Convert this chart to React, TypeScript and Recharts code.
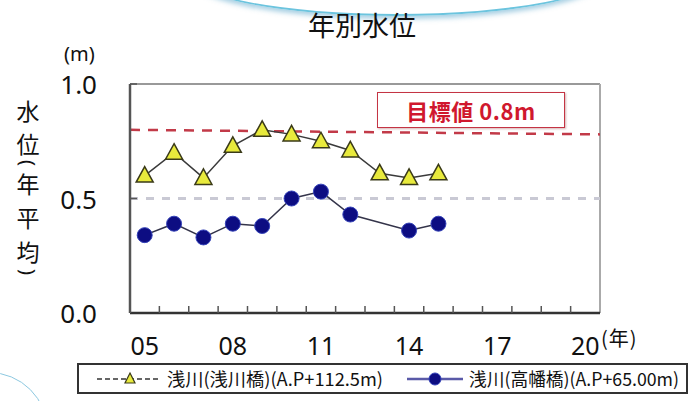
import React from 'react';
import { LineChart, Line, XAxis, YAxis, ReferenceLine } from 'recharts';

// 年 (2005〜2015)
const years = [5, 6, 7, 8, 9, 10, 11, 12, 13, 14, 15];
// 浅川(浅川橋)(A.P+112.5m)
const asakawaBashi = [0.6, 0.7, 0.59, 0.73, 0.8, 0.78, 0.75, 0.71, 0.61, 0.59, 0.61];
// 浅川(高幡橋)(A.P+65.00m) — 13年は欠測
const takahataBashi = [0.34, 0.39, 0.33, 0.39, 0.38, 0.5, 0.53, 0.43, null, 0.36, 0.39];

const xLabelTicks = [5, 8, 11, 14, 17, 20];
const xLabels = ['05', '08', '11', '14', '17', '20'];
const yTicks = [0, 0.5, 1];
const target = 0.8;

const data = years.map((y, i) => ({ year: y, asakawa: asakawaBashi[i], takahata: takahataBashi[i] }));

// tick marks sit on the category boundaries, labels on the category centres
const boundaryTicks = Array.from({ length: 15 }, (_, i) => 5.5 + i);
const allXTicks = [...xLabelTicks, ...boundaryTicks].sort((a, b) => a - b);

const numFont = '"Noto Sans", "Liberation Sans", sans-serif';
const jpFont = '"Noto Sans CJK JP", "Noto Sans", sans-serif';

// vertical axis title 水位(年平均), one glyph per row
const yTitleChars = [
  { ch: '水', y: 110 },
  { ch: '位', y: 143 },
  { ch: '年', y: 183 },
  { ch: '平', y: 217 },
  { ch: '均', y: 251 },
];
const yTitleParens = [
  { ch: '(', y: 163 },
  { ch: ')', y: 272 },
];

const XTick = ({ x, y, payload }: any) => {
  const idx = xLabelTicks.indexOf(payload.value);
  if (idx >= 0) {
    return (
      <text x={x} y={y + 42} textAnchor="middle" fontSize={25} fontFamily={numFont} fill="#111">
        {xLabels[idx]}
      </text>
    );
  }
  return <line x1={x} x2={x} y1={y} y2={y - 7} stroke="#555" strokeWidth={1.5} />;
};

const YTick = ({ x, y, payload }: any) => (
  <g>
    {payload.value > 0 && <line x1={x} x2={x + 7} y1={y} y2={y} stroke="#555" strokeWidth={1.5} />}
    <text x={x - 33} y={y + 10} textAnchor="end" fontSize={26} fontFamily={numFont} fill="#111">
      {payload.value.toFixed(1)}
    </text>
  </g>
);

const triangleDot = (props: any) => {
  const { cx, cy, index, value } = props;
  if (value == null || cx == null || cy == null) return <g key={`t-${index}`} />;
  return (
    <polygon
      key={`t-${index}`}
      points={`${cx},${cy - 9} ${cx + 8.5},${cy + 6.5} ${cx - 8.5},${cy + 6.5}`}
      fill="#e8ea3c"
      stroke="#3a3a18"
      strokeWidth={1.5}
    />
  );
};

const circleDot = (props: any) => {
  const { cx, cy, index, value } = props;
  if (value == null || cx == null || cy == null) return <g key={`c-${index}`} />;
  return <circle key={`c-${index}`} cx={cx} cy={cy} r={7.5} fill="#0d0d82" stroke="#3442b8" strokeWidth={1} />;
};

export default function App() {
  return (
    <div style={{ position: 'absolute', left: 0, top: 0, width: 690, height: 401, background: '#fff', overflow: 'hidden' }}>
      {/* decorative bubbles */}
      <div style={{ position: 'absolute', left: 185, top: -70, width: 420, height: 82, borderRadius: '50%', border: '2px solid #6cc4de', boxShadow: '0 3px 5px rgba(80,160,200,0.5)' }} />
      <div style={{ position: 'absolute', left: -70, top: 372, width: 116, height: 116, borderRadius: '50%', border: '1.5px solid #8cc8e0' }} />

      <div style={{ position: 'absolute', left: 0, width: 690, top: 5, textAlign: 'center', paddingLeft: 34, boxSizing: 'border-box', fontFamily: jpFont, fontSize: 27, color: '#111' }}>
        年別水位
      </div>
      <div style={{ position: 'absolute', left: 64, top: 44, lineHeight: 1, fontFamily: numFont, fontSize: 20, color: '#111' }}>(m)</div>

      <svg width={60} height={300} style={{ position: 'absolute', left: 0, top: 0 }}>
        {yTitleChars.map((c) => (
          <text key={c.ch} x={28} y={c.y} textAnchor="middle" dominantBaseline="central" fontFamily={jpFont} fontSize={23} fill="#111">
            {c.ch}
          </text>
        ))}
        {yTitleParens.map((c) => (
          <g key={c.ch} transform={`translate(28 ${c.y}) rotate(90)`}>
            <text x={0} y={0} textAnchor="middle" dominantBaseline="central" fontFamily={numFont} fontSize={20} fill="#111">
              {c.ch}
            </text>
          </g>
        ))}
      </svg>

      <div style={{ position: 'absolute', left: 601, top: 323, fontFamily: jpFont, fontSize: 20, color: '#111', letterSpacing: 1 }}>(年)</div>

      <LineChart width={690} height={401} data={data} margin={{ top: 84, right: 90, bottom: 58, left: 70 }} style={{ position: 'absolute', left: 0, top: 0 }}>
        <XAxis
          dataKey="year"
          type="number"
          domain={[4.5, 20.5]}
          ticks={allXTicks}
          interval={0}
          tick={<XTick />}
          tickLine={false}
          tickSize={0}
          tickMargin={0}
          height={30}
          axisLine={{ stroke: '#333', strokeWidth: 2.5 }}
        />
        <YAxis
          type="number"
          domain={[0, 1]}
          ticks={yTicks}
          interval={0}
          tick={<YTick />}
          tickLine={false}
          tickSize={0}
          tickMargin={0}
          width={60}
          axisLine={{ stroke: '#555', strokeWidth: 2.5 }}
        />
        <ReferenceLine y={1} stroke="#777" strokeWidth={1.5} />
        <ReferenceLine x={20.5} stroke="#aaa" strokeWidth={2} />
        <ReferenceLine y={0.5} stroke="#c9c9d4" strokeWidth={3} strokeDasharray="8 8" />
        <ReferenceLine
          segment={[{ x: 4.5, y: target }, { x: 20.5, y: target - 0.02 }]}
          stroke="#c23a48"
          strokeWidth={2.5}
          strokeDasharray="10 8"
        />
        <Line dataKey="takahata" stroke="#34344a" strokeWidth={1.5} connectNulls dot={circleDot} activeDot={false} isAnimationActive={false} />
        <Line dataKey="asakawa" stroke="#3a3a3a" strokeWidth={1.5} dot={triangleDot} activeDot={false} isAnimationActive={false} />
      </LineChart>

      {/* target label */}
      <div style={{ position: 'absolute', left: 377, top: 92, width: 188, height: 36, boxSizing: 'border-box', border: '1.5px solid #c43444', boxShadow: '1px 1px 2px rgba(120,0,0,0.3)', display: 'flex', alignItems: 'center', justifyContent: 'center', fontFamily: jpFont, fontWeight: 700, fontSize: 22, color: '#d0182e', letterSpacing: 0.5, background: '#fff' }}>
        目標値 0.8m
      </div>

      {/* legend */}
      <svg width={612} height={32} style={{ position: 'absolute', left: 77, top: 363 }}>
        <rect x={1} y={1} width={609} height={29} fill="#fff" stroke="#333" strokeWidth={2} />
        <line x1={20} x2={82} y1={16} y2={16} stroke="#666" strokeWidth={2} strokeDasharray="5 3" />
        <polygon points="53,10 58,20 48,20" fill="#e8ea3c" stroke="#3a3a18" strokeWidth={1.2} />
        <text x={90} y={23} fontSize={18} fontFamily={jpFont} fill="#111" textLength={216} lengthAdjust="spacingAndGlyphs">
          浅川(浅川橋)(A.P+112.5m)
        </text>
        <line x1={330} x2={386} y1={16} y2={16} stroke="#5a5aa8" strokeWidth={2.5} />
        <circle cx={358} cy={16} r={6} fill="#0d0d82" stroke="#3442b8" strokeWidth={1} />
        <text x={392} y={23} fontSize={18} fontFamily={jpFont} fill="#111" textLength={210} lengthAdjust="spacingAndGlyphs">
          浅川(高幡橋)(A.P+65.00m)
        </text>
      </svg>
    </div>
  );
}
